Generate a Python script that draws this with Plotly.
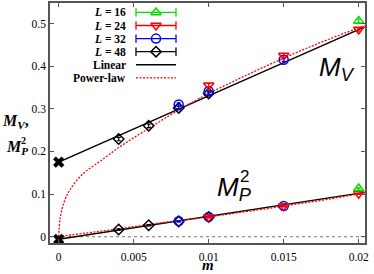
import plotly.graph_objects as go

# ---------------- data ----------------
# M_V data (m, value) per lattice size
mv_L16_m = [0.02]
mv_L16_v = [0.506]
mv_L24_m = [0.01, 0.015, 0.02]
mv_L24_v = [0.355, 0.425, 0.486]
mv_L32_m = [0.008, 0.01, 0.015]
mv_L32_v = [0.310, 0.341, 0.415]
mv_L48_m = [0.004, 0.006, 0.008, 0.01]
mv_L48_v = [0.229, 0.260, 0.302, 0.336]

# M_P^2 data
mp_L16_m = [0.02]
mp_L16_v = [0.113]
mp_L24_m = [0.01, 0.015, 0.02]
mp_L24_v = [0.046, 0.072, 0.101]
mp_L32_m = [0.008, 0.01, 0.015]
mp_L32_v = [0.0365, 0.0465, 0.072]
mp_L48_m = [0.004, 0.006, 0.008, 0.01]
mp_L48_v = [0.017, 0.027, 0.036, 0.046]

err_mv = 0.004
err_mp = 0.0015

# linear fits (read end points)
lin_m = [0.0, 0.0204]
lin_mv = [0.175, 0.492]
lin_mp = [-0.006, 0.104]

# chiral-limit extrapolations (X markers)
chi_m = [0.0, 0.0]
chi_v = [0.175, -0.006]

# power-law fits
pw_m = [0.0, 0.0001, 0.0004, 0.00075, 0.0016, 0.0028, 0.004, 0.005, 0.006,
        0.007, 0.008, 0.009, 0.01, 0.012, 0.014, 0.016, 0.018, 0.0204]
pw_mv = [0.0, 0.045, 0.085, 0.11, 0.147, 0.178, 0.209, 0.232, 0.254,
         0.276, 0.297, 0.317, 0.336, 0.370, 0.403, 0.434, 0.463, 0.495]
pw_mp = [0.0, 0.0006, 0.0022, 0.0038, 0.0076, 0.013, 0.0185, 0.0235, 0.0285,
         0.0335, 0.0375, 0.042, 0.0465, 0.0565, 0.0665, 0.0775, 0.088, 0.103]

x_ticks = [0, 0.005, 0.01, 0.015, 0.02]
x_tick_text = ["0", "0.005", "0.01", "0.015", "0.02"]
y_ticks = [0, 0.1, 0.2, 0.3, 0.4, 0.5]
y_tick_text = ["0", "0.1", "0.2", "0.3", "0.4", "0.5"]

legend_labels = ["<i>L</i> = 16", "<i>L</i> = 24", "<i>L</i> = 32", "<i>L</i> = 48",
                 "Linear", "Power-law"]

# ---------------- styles ----------------
GREEN = "#00dd00"
RED = "#ff0000"
BLUE = "#0000ff"
BLACK = "#000000"
SERIF = "Liberation Serif"
SANS = "Liberation Sans"

# plot-area pixel box (figure is 374 x 274)
PL, PR, PT, PB = 50, 365, 1, 243


def px2paper(px, py):
    return (px - PL) / (PR - PL), (PB - py) / (PB - PT)


series_styles = [
    (GREEN, "triangle-up-open", 9),
    (RED, "triangle-down-open", 9),
    (BLUE, "circle-open", 9),
    (BLACK, "diamond-open", 8),
]

fig = go.Figure()

# lines
fig.add_trace(go.Scatter(x=lin_m, y=lin_mv, mode="lines",
                         line=dict(color=BLACK, width=1.5), showlegend=False))
fig.add_trace(go.Scatter(x=lin_m, y=lin_mp, mode="lines",
                         line=dict(color=BLACK, width=1.5), showlegend=False))
fig.add_trace(go.Scatter(x=pw_m, y=pw_mv, mode="lines", line_shape="spline",
                         line=dict(color=RED, width=1.3, dash="2px,1.5px"), showlegend=False))
fig.add_trace(go.Scatter(x=pw_m, y=pw_mp, mode="lines", line_shape="spline",
                         line=dict(color=RED, width=1.3, dash="2px,1.5px"), showlegend=False))

# data points (draw L=48 first, L=16 last)
groups = [
    (mv_L16_m, mv_L16_v, mp_L16_m, mp_L16_v),
    (mv_L24_m, mv_L24_v, mp_L24_m, mp_L24_v),
    (mv_L32_m, mv_L32_v, mp_L32_m, mp_L32_v),
    (mv_L48_m, mv_L48_v, mp_L48_m, mp_L48_v),
]
for idx in [3, 2, 1, 0]:
    color, sym, size = series_styles[idx]
    a_m, a_v, b_m, b_v = groups[idx]
    for xs, ys, e in [(a_m, a_v, err_mv), (b_m, b_v, err_mp)]:
        fig.add_trace(go.Scatter(
            x=xs, y=ys, mode="markers",
            marker=dict(symbol=sym, size=size, color=color, line=dict(width=1.5, color=color)),
            error_y=dict(type="constant", value=e, color=color, thickness=1.2, width=2),
            showlegend=False))

fig.add_trace(go.Scatter(x=chi_m, y=chi_v, mode="markers",
                         marker=dict(symbol="x", size=10, color=BLACK),
                         showlegend=False, cliponaxis=False))

# ---------------- custom legend on a pixel-canvas overlay axis ----------------
row_y0, row_dy = 10.5, 13.2
lx0, lx1, lxm, ltext = 136, 176, 156, 128
for i, lab in enumerate(legend_labels):
    yy = row_y0 + i * row_dy
    if i < 4:
        color, sym, size = series_styles[i]
        fig.add_trace(go.Scatter(x=[lx0, lx1], y=[yy, yy], mode="lines+markers",
                                 line=dict(color=color, width=1.3),
                                 marker=dict(symbol="line-ns", size=6, line=dict(color=color, width=1.3)),
                                 xaxis="x2", yaxis="y2", showlegend=False))
        fig.add_trace(go.Scatter(x=[lxm], y=[yy], mode="markers",
                                 marker=dict(symbol=sym, size=size, color=color,
                                             line=dict(width=1.5, color=color)),
                                 xaxis="x2", yaxis="y2", showlegend=False))
    elif i == 4:
        fig.add_trace(go.Scatter(x=[lx0, lx1], y=[yy, yy], mode="lines",
                                 line=dict(color=BLACK, width=1.5),
                                 xaxis="x2", yaxis="y2", showlegend=False))
    else:
        fig.add_trace(go.Scatter(x=[lx0, lx1], y=[yy, yy], mode="lines",
                                 line=dict(color=RED, width=1.3, dash="2px,1.5px"),
                                 xaxis="x2", yaxis="y2", showlegend=False))
    fig.add_annotation(x=ltext, y=yy, xref="x2", yref="y2", text="<b>" + lab + "</b>",
                       showarrow=False, xanchor="right", yanchor="middle",
                       font=dict(family=SERIF, size=11.5, color=BLACK))

# ---------------- labels (pixel positions -> paper coords) ----------------
ann = []
# in-plot labels
ann.append((317, 67, "<i>M</i><sub><i>V</i></sub>", "left", SANS, 26))
ann.append((215, 188, "<i>M</i><sub><i>P</i></sub>", "left", SANS, 26))
ann.append((238, 176, "2", "left", SANS, 17))
# y label
ann.append((0, 120, "<b><i>M</i></b><sub><b><i>V</i></b></sub><b>,</b>", "left", SERIF, 16))
ann.append((4, 147, "<b><i>M</i></b><sub><b><i>P</i></b></sub>", "left", SERIF, 16))
ann.append((19, 140, "<b>2</b>", "left", SERIF, 10))
# x label
ann.append((208, 265, "<b><i>m</i></b>", "center", SERIF, 15))
for px, py, txt, xa, fam, sz in ann:
    xp, yp = px2paper(px, py)
    fig.add_annotation(x=xp, y=yp, xref="paper", yref="paper", text=txt, showarrow=False,
                       xanchor=xa, yanchor="middle", font=dict(family=fam, size=sz, color=BLACK))

AXC = "#555555"
fig.update_layout(
    width=374, height=274,
    margin=dict(l=PL, r=374 - PR, t=PT, b=274 - PB),
    paper_bgcolor="white", plot_bgcolor="white",
    xaxis=dict(range=[-0.00058, 0.02042], tickvals=x_ticks, ticktext=x_tick_text,
               showgrid=False, zeroline=False, showline=True, linecolor=AXC, linewidth=1.5,
               mirror="ticks", ticks="inside", ticklen=4, tickcolor=AXC, tickwidth=1,
               tickfont=dict(family=SERIF, size=11.5, color=BLACK), ticklabelstandoff=2),
    yaxis=dict(range=[-0.0147, 0.548], tickvals=y_ticks, ticktext=y_tick_text,
               showgrid=False, zeroline=False, showline=True, linecolor=AXC, linewidth=1.5,
               mirror="ticks", ticks="inside", ticklen=4, tickcolor=AXC, tickwidth=1,
               tickfont=dict(family=SERIF, size=11.5, color=BLACK)),
    xaxis2=dict(range=[PL, PR], overlaying="x", anchor="y2", visible=False, fixedrange=True),
    yaxis2=dict(range=[PB, PT], overlaying="y", anchor="x2", visible=False, fixedrange=True),
    shapes=[dict(type="line", xref="paper", yref="y", x0=0, x1=1, y0=0, y1=0,
                 line=dict(color="#777777", width=1, dash="3px,3px"), layer="below")],
    showlegend=False,
)

fig.write_html("out.html", config={"displayModeBar": False},
               post_script="document.body.style.margin='0';document.body.style.overflow='hidden';")
